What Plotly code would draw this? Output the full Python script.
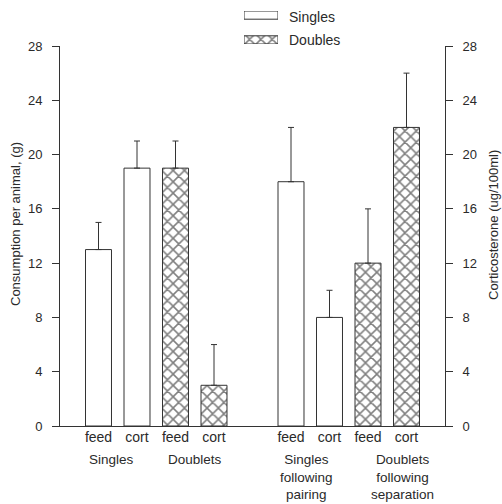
import plotly.graph_objects as go

groups = ["Singles", "Doublets", "Singles<br>following<br>pairing", "Doublets<br>following<br>separation"]
measures = ["feed", "cort"]
feed_vals = [13, 19, 18, 12]
feed_err = [2, 2, 4, 4]
cort_vals = [19, 3, 8, 22]
cort_err = [2, 3, 2, 4]
housing = ["Singles", "Doubles", "Singles", "Doubles"]
legend_items = ["Singles", "Doubles"]
y_ticks = [0, 4, 8, 12, 16, 20, 24, 28]

FONT = "Liberation Sans, Arial, sans-serif"
W, H = 502, 504
INK = "#2a2a2a"

# pixel frame of the plotting area
PX_L, PX_R, PX_T, PX_B = 60, 445, 46, 426


def px_x(p):
    return p / W


def px_y(p):
    return 1 - p / H


def pos(g, m):
    # two bars per group, one empty slot between 2nd and 3rd group
    return 1 + 2 * g + m + (1 if g >= 2 else 0)


def pattern(kind):
    return dict(shape="x" if kind == "Doubles" else "", fgcolor="#000000",
                bgcolor="white", size=8, solidity=0.35)


fig = go.Figure()
for g in range(len(groups)):
    for m, (vals, errs) in enumerate([(feed_vals, feed_err), (cort_vals, cort_err)]):
        kind = housing[g]
        fig.add_trace(go.Bar(
            x=[pos(g, m)], y=[vals[g]],
            yaxis="y" if m == 0 else "y2",
            width=0.675,
            name=kind,
            showlegend=False,
            marker=dict(color="white", line=dict(color="#333333", width=1),
                        pattern=pattern(kind)),
            error_y=dict(type="data", array=[errs[g]], arrayminus=[0], symmetric=False,
                         color="#333333", thickness=1, width=3),
        ))

# hand-drawn legend swatches (wide rectangles like the original)
for i, kind in enumerate(legend_items):
    fig.add_trace(go.Scatter(
        x=[0, 1, 1, 0, 0], y=[i, i, i + 0.33, i + 0.33, i],
        xaxis="x3", yaxis="y3", mode="lines", fill="toself",
        fillcolor="white", fillpattern=pattern(kind),
        line=dict(color="#333333", width=1), showlegend=False, hoverinfo="skip",
    ))
    fig.add_annotation(x=px_x(287), y=px_y(17 + 23 * i), xref="paper", yref="paper",
                       text=kind, showarrow=False, xanchor="left", yanchor="middle",
                       font=dict(size=14))

tickvals = [pos(g, m) for g in range(len(groups)) for m in range(2)]
ticktext = [measures[m] for g in range(len(groups)) for m in range(2)]

x_dom = [px_x(PX_L), px_x(PX_R)]
y_dom = [px_y(PX_B), px_y(PX_T)]

fig.update_layout(
    width=W, height=H,
    margin=dict(l=0, r=0, t=0, b=0, pad=0, autoexpand=False),
    paper_bgcolor="white", plot_bgcolor="white",
    font=dict(family=FONT, size=13, color=INK),
    barmode="overlay",
    showlegend=False,
    xaxis=dict(domain=x_dom, range=[0, 10], tickvals=tickvals, ticktext=ticktext, ticks="",
               showline=True, linecolor="#333333", linewidth=1, showgrid=False,
               zeroline=False, tickfont=dict(size=14), automargin=False,
               ticklabelstandoff=-2),
    yaxis=dict(domain=y_dom, range=[0, 28], tickvals=y_ticks, ticks="outside", ticklen=7,
               tickcolor="#333333",
               showline=True, linecolor="#333333", linewidth=1, showgrid=False,
               zeroline=False, automargin=False, ticklabelstandoff=7),
    yaxis2=dict(domain=y_dom, range=[0, 28], tickvals=y_ticks, ticks="outside", ticklen=7,
                tickcolor="#333333", anchor="x",
                overlaying="y", side="right",
                showline=True, linecolor="#333333", linewidth=1, showgrid=False,
                zeroline=False, automargin=False, ticklabelstandoff=7),
    xaxis3=dict(domain=[px_x(244), px_x(278)], range=[0, 1], visible=False,
                anchor="y3", fixedrange=True),
    yaxis3=dict(domain=[px_y(44), px_y(11)], range=[1.33, 0], visible=False,
                anchor="x3", fixedrange=True),
)

# axis titles
fig.add_annotation(x=px_x(15), y=px_y(224), xref="paper", yref="paper",
                   text="Consumption per animal, (g)", textangle=-90, showarrow=False,
                   xanchor="center", yanchor="middle", font=dict(size=13))
fig.add_annotation(x=px_x(494), y=px_y(225), xref="paper", yref="paper",
                   text="Corticosterone (ug/100ml)", textangle=-90, showarrow=False,
                   xanchor="center", yanchor="middle", font=dict(size=13))

# group labels
label_dx = [-0.17, 0.0, -0.1, 0.39]
for g, label in enumerate(groups):
    fig.add_annotation(x=(pos(g, 0) + pos(g, 1)) / 2 + label_dx[g], y=px_y(450),
                       xref="x", yref="paper",
                       text=label, showarrow=False, yanchor="top",
                       font=dict(size=13.5), align="center")

fig.write_html("out.html",
               config={"displayModeBar": False},
               post_script="document.body.style.margin='0';document.body.style.overflow='hidden';")
